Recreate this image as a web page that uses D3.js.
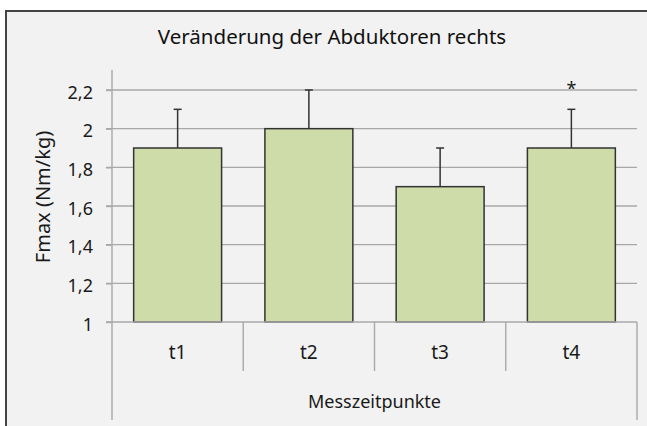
<!DOCTYPE html>
<html>
<head>
<meta charset="utf-8">
<script src="https://cdn.jsdelivr.net/npm/d3@7"></script>
<style>
  html, body { margin: 0; padding: 0; background: #fff; }
  svg { display: block; font-family: "Noto Sans", "DejaVu Sans", sans-serif; }
</style>
</head>
<body>
<svg id="chart" width="647" height="426"></svg>
<script>
// Daten
const categories = ['t1', 't2', 't3', 't4'];
const means = [1.9, 2.0, 1.7, 1.9];
const errors = [0.2, 0.2, 0.2, 0.2];
const significant = [false, false, false, true];
const yTicks = [1, 1.2, 1.4, 1.6, 1.8, 2, 2.2];
const title = 'Veränderung der Abduktoren rechts';
const yTitle = 'Fmax (Nm/kg)';
const xTitle = 'Messzeitpunkte';

const width = 647, height = 426;
const margin = { top: 90, right: 10, bottom: 104, left: 112 };
const chartRight = 637;
const textColor = '#1a1a1a';
const gridColor = '#a8a8a8';

const svg = d3.select('#chart');

// Hintergrund + Rahmen
svg.append('rect')
  .attr('x', 6).attr('y', 11)
  .attr('width', width + 10).attr('height', height + 10)
  .attr('fill', '#f2f2f2')
  .attr('stroke', '#444')
  .attr('stroke-width', 2);

// Titel
svg.append('text')
  .attr('x', 332).attr('y', 44)
  .attr('text-anchor', 'middle')
  .attr('font-size', '20.5px')
  .attr('fill', '#111')
  .text(title);

// Skalen
const x = d3.scaleBand()
  .domain(categories)
  .range([margin.left, chartRight])
  .paddingInner(0.33)
  .paddingOuter(0.165);

const y = d3.scaleLinear()
  .domain([1, 2.2])
  .range([height - margin.bottom, margin.top]);

// Gitterlinien
svg.append('g')
  .selectAll('line')
  .data(yTicks.slice(1))
  .join('line')
  .attr('x1', margin.left - 6)
  .attr('x2', chartRight)
  .attr('y1', d => y(d))
  .attr('y2', d => y(d))
  .attr('stroke', gridColor)
  .attr('stroke-width', 1.4);

// Y-Achse
const yAxis = d3.axisLeft(y)
  .tickValues(yTicks)
  .tickFormat(d => d3.format('~g')(d).replace('.', ','))
  .tickSize(6)
  .tickPadding(13);

const yg = svg.append('g')
  .attr('transform', `translate(${margin.left},0)`)
  .call(yAxis);
yg.select('.domain')
  .attr('d', `M0,${y(2.2) - 20}V${y(1)}`)
  .attr('stroke', gridColor)
  .attr('stroke-width', 1.4);
yg.selectAll('.tick line').attr('stroke', gridColor).attr('stroke-width', 1.4);
yg.selectAll('.tick text')
  .style('font-size', '18px')
  .style('font-family', '"Noto Sans", sans-serif')
  .attr('dy', '0.45em')
  .attr('fill', textColor);

// Y-Achsentitel
svg.append('text')
  .attr('transform', `translate(50,197) rotate(-90)`)
  .attr('text-anchor', 'middle')
  .attr('font-size', '20px')
  .attr('fill', textColor)
  .text(yTitle);

// Balken
svg.append('g')
  .selectAll('rect')
  .data(categories)
  .join('rect')
  .attr('x', d => x(d))
  .attr('y', (d, i) => y(means[i]))
  .attr('width', x.bandwidth())
  .attr('height', (d, i) => y(1) - y(means[i]))
  .attr('fill', '#cddca9')
  .attr('stroke', '#333')
  .attr('stroke-width', 1.5);

// Fehlerbalken
const err = svg.append('g').attr('stroke', '#333').attr('stroke-width', 1.5);
categories.forEach((c, i) => {
  const cx = x(c) + x.bandwidth() / 2;
  err.append('line')
    .attr('x1', cx).attr('x2', cx)
    .attr('y1', y(means[i])).attr('y2', y(means[i] + errors[i]));
  err.append('line')
    .attr('x1', cx - 4).attr('x2', cx + 4)
    .attr('y1', y(means[i] + errors[i])).attr('y2', y(means[i] + errors[i]));
});

// Signifikanz
svg.append('g')
  .selectAll('text')
  .data(categories.filter((c, i) => significant[i]))
  .join('text')
  .attr('x', d => x(d) + x.bandwidth() / 2)
  .attr('y', y(2.2) + 5)
  .attr('text-anchor', 'middle')
  .attr('font-size', '18px')
  .attr('fill', textColor)
  .text('*');

// Kategorienachse
const xg = svg.append('g').attr('stroke', gridColor).attr('stroke-width', 1.4);
xg.append('line')
  .attr('x1', margin.left - 6).attr('x2', chartRight)
  .attr('y1', y(1)).attr('y2', y(1));
const edges = categories.map(c => x(c) - x.step() * x.paddingInner() / 2);
edges.push(chartRight);
edges.forEach((e, i) => {
  const outer = i === 0 || i === edges.length - 1;
  xg.append('line')
    .attr('x1', e).attr('x2', e)
    .attr('y1', y(1)).attr('y2', outer ? 420 : 371);
});

svg.append('g')
  .selectAll('text')
  .data(categories)
  .join('text')
  .attr('x', d => x(d) + x.bandwidth() / 2)
  .attr('y', 359)
  .attr('text-anchor', 'middle')
  .attr('font-size', '19px')
  .attr('fill', textColor)
  .text(d => d);

svg.append('text')
  .attr('x', (margin.left + chartRight) / 2)
  .attr('y', 408)
  .attr('text-anchor', 'middle')
  .attr('font-size', '18px')
  .attr('fill', textColor)
  .text(xTitle);
</script>
</body>
</html>
